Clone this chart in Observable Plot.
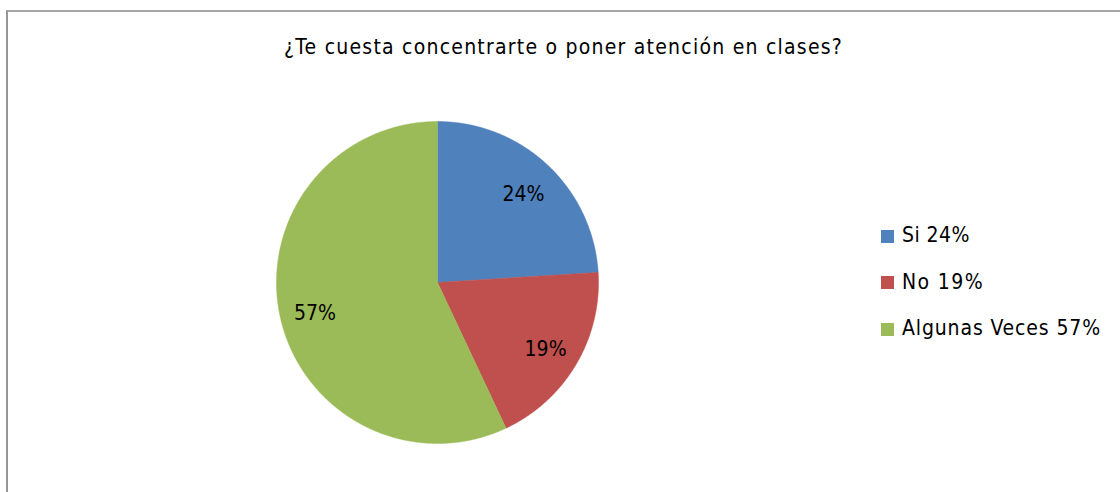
<!DOCTYPE html>
<html>
<head>
<meta charset="utf-8">
<script src="https://cdn.jsdelivr.net/npm/d3@7"></script>
<script src="https://cdn.jsdelivr.net/npm/@observablehq/plot@0.6"></script>
<style>
  html, body { margin: 0; padding: 0; background: #fff; }
  #wrap { position: relative; width: 1120px; height: 492px; overflow: hidden; font-family: "DejaVu Sans Condensed", "Liberation Sans", Arial, sans-serif; }
  #frame { position: absolute; left: 6px; top: 10px; width: 1200px; height: 600px; border-left: 2px solid #969696; border-top: 2px solid #a6a6a6; box-sizing: border-box; }
  .fit { position: absolute; white-space: nowrap; font-size: 21px; color: #000; line-height: 1; }
  .sw { position: absolute; width: 13px; height: 13px; }
  #chart { position: absolute; left: 0; top: 0; }
</style>
</head>
<body>
<div id="wrap">
  <div id="frame"></div>
  <div id="chart"></div>
</div>
<script>
const title = "¿Te cuesta concentrarte o poner atención en clases?";
const categories = ["Si", "No", "Algunas Veces"];
const values = [24, 19, 57];
const colors = ["#4F81BD", "#C0504D", "#9BBB59"];
const FONT = "'DejaVu Sans Condensed', 'Liberation Sans', Arial, sans-serif";

const wrap = document.getElementById("wrap");

// place a text element with a target left edge and width
function placeText(str, left, top, targetWidth, center) {
  const el = document.createElement("div");
  el.className = "fit";
  el.textContent = str;
  wrap.appendChild(el);
  const w = el.getBoundingClientRect().width;
  const ls = (targetWidth - w) / str.length;
  el.style.letterSpacing = ls + "px";
  const w2 = el.getBoundingClientRect().width - ls;
  el.style.left = (center ? left - w2 / 2 : left) + "px";
  el.style.top = top + "px";
  return el;
}

placeText(title, 563, 37, 559, true);

const pie = d3.pie().sort(null).value(d => d)(values);

// Build slice polygons (angle clockwise from top; x = sin, y = cos)
const slicePts = [];
pie.forEach((p, i) => {
  const cat = categories[i];
  slicePts.push({cat, x: 0, y: 0});
  const n = Math.max(2, Math.ceil((p.endAngle - p.startAngle) / 0.005));
  for (let k = 0; k <= n; k++) {
    const a = p.startAngle + (p.endAngle - p.startAngle) * k / n;
    slicePts.push({cat, x: Math.sin(a), y: Math.cos(a)});
  }
  slicePts.push({cat, x: 0, y: 0});
});

const labelR = 0.78;
const labels = pie.map((p, i) => {
  const a = (p.startAngle + p.endAngle) / 2;
  return {cat: categories[i], x: labelR * Math.sin(a), y: labelR * Math.cos(a), text: values[i] + "%"};
});

const cx = 437, cy = 282, r = 161;
const chart = Plot.plot({
  width: 1120,
  height: 492,
  margin: 0,
  style: {background: "transparent", fontFamily: FONT},
  x: {domain: [-1, 1], range: [cx - r, cx + r], axis: null},
  y: {domain: [-1, 1], range: [cy + r, cy - r], axis: null},
  color: {domain: categories, range: colors},
  marks: [
    Plot.line(slicePts, {x: "x", y: "y", z: "cat", fill: "cat", stroke: "cat", strokeWidth: 0.5, curve: "linear"}),
    Plot.text(labels, {x: "x", y: "y", text: "text", fontSize: 21, fill: "#000", dy: 3})
  ]
});
document.getElementById("chart").appendChild(chart);

// legend
const legendWidths = [68, 82, 199];
categories.forEach((c, i) => {
  const yc = 236 + i * 46.5;
  const sw = document.createElement("div");
  sw.className = "sw";
  sw.style.background = colors[i];
  sw.style.left = "881px";
  sw.style.top = (yc - 6.5) + "px";
  wrap.appendChild(sw);
  placeText(c + " " + values[i] + "%", 902, yc - 11, legendWidths[i], false);
});
</script>
</body>
</html>
